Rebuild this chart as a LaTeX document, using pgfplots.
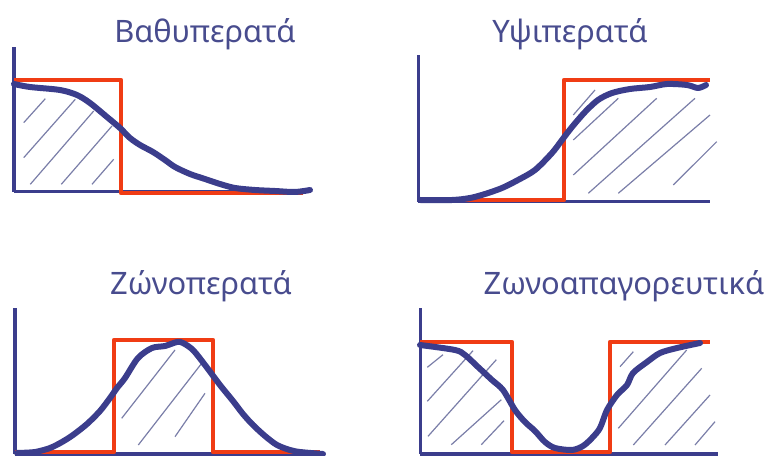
\documentclass[border=0pt]{standalone}
\usepackage{fontspec}
\setmainfont{Noto Sans}
\usepackage{pgfplots}
\pgfplotsset{compat=1.18}

\definecolor{ind}{HTML}{3B3D8C}
\definecolor{ttl}{HTML}{484C8E}
\definecolor{rd}{HTML}{F03C14}
\definecolor{hatch}{HTML}{7A7EA8}

% coordinates are pixels of the drawing: (x, -y)
\pgfplotsset{
  filt/.style={
    x=1bp, y=1bp, clip=false,
    axis lines=left, ticks=none,
    axis line style={-, draw=ind, line width=3bp},
    anchor=south west,
  },
  resp/.style={draw=ind, line width=6bp, smooth, tension=0.5, line cap=round, line join=round, no marks},
  ideal/.style={draw=rd, line width=4.5bp, line join=round, no marks},
  hat/.style={draw=hatch, line width=1.2bp, no marks},
}

\begin{document}
\begin{tikzpicture}

% low-pass
\begin{axis}[filt, at={(14bp,264bp)}, xmin=14, xmax=305, ymin=-192, ymax=-47]
\addplot[hat] coordinates {(23.7,-122.7) (45.3,-98.7)};
\addplot[hat] coordinates {(23.7,-157.7) (75.3,-99.3)};
\addplot[hat] coordinates {(30.3,-184.3) (93.7,-111)};
\addplot[hat] coordinates {(61.3,-184.3) (112,-126)};
\addplot[hat] coordinates {(92,-184.3) (113.7,-159.3)};
\addplot[ideal] coordinates {(14,-80) (121,-80) (121,-193) (303,-193)};
\addplot[resp] coordinates {
  (14,-84) (30,-87) (60,-90) (77,-95) (90,-103) (107,-117) (120,-128)
  (130,-138) (140,-145) (153,-152) (165,-160) (175,-167) (190,-174)
  (205,-179) (220,-184) (235,-188) (255,-190) (275,-191) (295,-192) (310,-190)
};
\end{axis}

% high-pass
\begin{axis}[filt, at={(418bp,254bp)}, xmin=418, xmax=710, ymin=-202, ymax=-55]
\addplot[hat] coordinates {(573.3,-115) (595,-90)};
\addplot[hat] coordinates {(573.3,-140) (618.3,-98.3)};
\addplot[hat] coordinates {(573.3,-175) (656.7,-98.3)};
\addplot[hat] coordinates {(588.3,-193.3) (695,-98.3)};
\addplot[hat] coordinates {(618.3,-193.3) (710,-115)};
\addplot[hat] coordinates {(673.3,-185) (716.7,-141.7)};
\addplot[ideal] coordinates {(418,-200) (564,-200) (564,-80) (710,-80)};
\addplot[resp] coordinates {
  (420,-200) (452,-200) (470,-198) (485,-194) (502,-188) (518,-180)
  (535,-170) (552,-153) (562,-140) (572,-127) (585,-112) (598,-100)
  (612,-93) (630,-89) (650,-87) (667,-84) (687,-85) (698,-88) (706,-85)
};
\end{axis}

% band-pass
\begin{axis}[filt, at={(15bp,2bp)}, xmin=15, xmax=320, ymin=-454, ymax=-308]
\addplot[hat] coordinates {(121.7,-418.3) (175,-350)};
\addplot[hat] coordinates {(138.3,-445) (201.7,-363.3)};
\addplot[hat] coordinates {(175,-436.7) (205,-393.3)};
\addplot[ideal] coordinates {(15,-452) (114,-452) (114,-340) (213,-340) (213,-452) (320,-452)};
\addplot[resp] coordinates {
  (17,-453) (35,-452) (50,-448) (62,-442) (73,-435) (87,-424) (100,-411)
  (110,-398) (117,-388) (125,-378) (138,-358) (152,-348) (165,-346)
  (177,-342) (183,-343) (193,-350) (205,-365) (220,-385) (233,-401)
  (243,-414) (253,-425) (265,-436) (277,-445) (290,-450) (300,-452) (323,-454)
};
\end{axis}

% band-stop
\begin{axis}[filt, at={(420bp,2bp)}, xmin=420, xmax=718, ymin=-454, ymax=-308]
\addplot[hat] coordinates {(427.3,-367.3) (443,-354.7)};
\addplot[hat] coordinates {(427.3,-401.3) (473,-350.7)};
\addplot[hat] coordinates {(428,-436.3) (496.3,-359.7)};
\addplot[hat] coordinates {(451.3,-444.7) (501.3,-399.7)};
\addplot[hat] coordinates {(481.3,-444.7) (504,-420.7)};
\addplot[hat] coordinates {(620,-366.7) (633.3,-351.7)};
\addplot[hat] coordinates {(618.3,-428.3) (686.7,-350)};
\addplot[hat] coordinates {(633.3,-445) (701.7,-368.3)};
\addplot[hat] coordinates {(665,-445) (710,-395)};
\addplot[hat] coordinates {(695,-445) (715,-421.7)};
\addplot[ideal] coordinates {(420,-342) (512,-342) (512,-452) (610,-452) (610,-342) (710,-342)};
\addplot[resp] coordinates {
  (420,-345) (455,-350) (465,-355) (478,-367) (492,-380) (503,-390)
  (515,-410) (525,-422) (535,-431) (545,-442) (555,-448) (572,-450)
  (583,-446) (592,-438) (600,-428) (607,-410) (617,-395) (627,-385)
  (633,-373) (647,-362) (660,-353) (677,-348) (700,-343)
};
\end{axis}

\begin{scope}[every node/.style={anchor=base, text=ttl, font=\fontsize{31}{37}\selectfont}]
\node at (205bp,413bp) {Βαθυπερατά};
\node at (570bp,413bp) {Υψιπερατά};
\node at (201bp,161bp) {Ζώνοπερατά};
\node at (624bp,161bp) {Ζωνοαπαγορευτικά};
\end{scope}

\pgfresetboundingbox
\useasboundingbox (0,0) rectangle (771bp,456bp);
\end{tikzpicture}
\end{document}
